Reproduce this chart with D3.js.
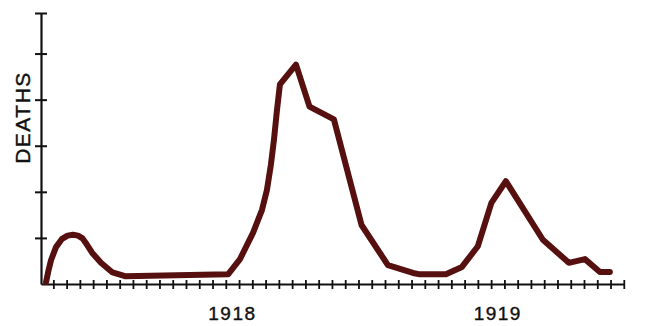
<!DOCTYPE html>
<html>
<head>
<meta charset="utf-8">
<script src="https://cdn.jsdelivr.net/npm/d3@7"></script>
<style>
    body { margin: 0; background: #fff; }
    text { font-family: "Liberation Sans", Arial, sans-serif; }
</style>
</head>
<body>
<div id="deaths-chart"></div>
<script>
// weeks since start of the plot (one axis tick per week) and deaths (in y-tick units)
var weeks = [-0.55, -0.36, -0.17, 0.20, 0.66, 1.07, 1.48, 1.86, 2.20, 2.54,
             2.92, 3.59, 4.46, 5.40, 13.17, 14.07, 15.05, 15.73, 16.10, 16.40,
             16.63, 16.86, 17.08, 18.29, 19.31, 21.15, 23.23, 25.22, 27.11, 27.63,
             29.59, 30.80, 32.00, 33.02, 34.11, 36.90, 38.86, 40.07, 41.20, 41.95];
var deaths = [0.04, 0.30, 0.52, 0.80, 0.98, 1.05, 1.07, 1.05, 0.99, 0.85,
              0.68, 0.46, 0.25, 0.17, 0.21, 0.54, 1.11, 1.61, 2.04, 2.59,
              3.13, 3.78, 4.33, 4.76, 3.85, 3.57, 1.28, 0.41, 0.24, 0.21,
              0.21, 0.37, 0.82, 1.76, 2.23, 0.96, 0.46, 0.54, 0.26, 0.26];

var weekTicks = d3.range(0, 44);
var deathTicks = [1, 2, 3, 4, 5, 5.88];
var yearLabels = ["1918", "1919"];
var yearWeeks = [13.5, 33.5];

var width = 670,
    height = 326;

var svg = d3.select("#deaths-chart")
    .append("svg")
    .attr("width", width)
    .attr("height", height);

var x = d3.scaleLinear()
    .domain([-0.93, 43])
    .range([41, 623.8]);

var y = d3.scaleLinear()
    .domain([0, 5.88])
    .range([284, 13]);

// x axis, ticks cross the line
var xAxis = svg.append("g")
    .attr("transform", "translate(0," + y(0) + ")")
    .call(d3.axisBottom(x).tickValues(weekTicks).tickSize(5).tickSizeOuter(0).tickFormat(""));
xAxis.select(".domain").attr("stroke", "#111").attr("stroke-width", 2.2);
xAxis.selectAll(".tick line")
    .attr("y1", -4)
    .attr("y2", 5)
    .attr("stroke", "#111")
    .attr("stroke-width", 1.8);

// y axis
var yAxis = svg.append("g")
    .attr("transform", "translate(" + x(-0.93) + ",0)")
    .call(d3.axisLeft(y).tickValues(deathTicks).tickSize(6).tickSizeOuter(0).tickFormat(""));
yAxis.select(".domain").attr("stroke", "#111").attr("stroke-width", 2.2);
yAxis.selectAll(".tick line")
    .attr("x1", -6)
    .attr("x2", 6)
    .attr("stroke", "#111")
    .attr("stroke-width", 2);

// year labels under the axis
svg.selectAll("yearLabels")
    .data(yearLabels)
    .enter()
    .append("text")
    .attr("x", function(d, i) { return x(yearWeeks[i]); })
    .attr("y", 319.5)
    .attr("text-anchor", "middle")
    .style("font-size", "19px")
    .style("letter-spacing", "1.5px")
    .attr("fill", "#111")
    .attr("stroke", "#111")
    .attr("stroke-width", 0.4)
    .text(function(d) { return d; });

// y axis title
svg.append("text")
    .attr("transform", "translate(30,117.5) rotate(-90)")
    .attr("text-anchor", "middle")
    .style("font-size", "21px")
    .style("letter-spacing", "1.5px")
    .attr("fill", "#111")
    .attr("stroke", "#111")
    .attr("stroke-width", 0.4)
    .text("DEATHS");

// the deaths curve
var points = weeks.map(function(w, i) { return [w, deaths[i]]; });
var line = d3.line()
    .x(function(d) { return x(d[0]); })
    .y(function(d) { return y(d[1]); });

svg.append("path")
    .datum(points)
    .attr("d", line)
    .attr("fill", "none")
    .attr("stroke", "#561010")
    .attr("stroke-width", 6)
    .attr("stroke-linejoin", "round")
    .attr("stroke-linecap", "round");
</script>
</body>
</html>
